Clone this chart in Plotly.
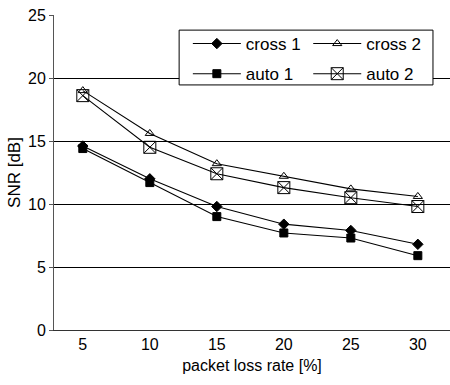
import plotly.graph_objects as go

loss_rate = [5, 10, 15, 20, 25, 30]
cross1 = [14.6, 12.0, 9.8, 8.4, 7.9, 6.8]
cross2 = [19.0, 15.6, 13.2, 12.2, 11.2, 10.6]
auto1 = [14.4, 11.7, 9.0, 7.7, 7.3, 5.9]
auto2 = [18.6, 14.5, 12.4, 11.3, 10.5, 9.8]

series = [
    ("cross 1", cross1, "diamond", 8, "legend"),
    ("cross 2", cross2, "triangle-up-open", 8, "legend2"),
    ("auto 1", auto1, "square", 8, "legend"),
    ("auto 2", auto2, "square-x-open", 12, "legend2"),
]

fig = go.Figure()
for name, vals, sym, size, leg in series:
    fig.add_trace(go.Scatter(
        x=loss_rate, y=vals, name=name, mode="lines+markers",
        line=dict(color="black", width=1.1),
        marker=dict(symbol=sym, size=size, color="black",
                    line=dict(color="black", width=1)),
        legend=leg, legendgroup=name,
    ))

leg_common = dict(
    orientation="v", yanchor="top", xanchor="left",
    bgcolor="rgba(0,0,0,0)", borderwidth=0,
    font=dict(size=17), itemwidth=48, tracegroupgap=5,
)

fig.update_layout(
    width=450, height=385,
    margin=dict(l=54, r=0, t=15, b=55, autoexpand=False),
    paper_bgcolor="white", plot_bgcolor="white",
    font=dict(family="Liberation Sans, Arial, sans-serif", color="black", size=16),
    showlegend=True,
    legend=dict(x=0.338, y=0.965, **leg_common),
    legend2=dict(x=0.642, y=0.965, **leg_common),
    shapes=[dict(type="rect", xref="paper", yref="paper",
                 x0=0.316, x1=0.957, y0=0.778, y1=0.952,
                 line=dict(color="black", width=1), fillcolor="white",
                 layer="above")],
    xaxis=dict(
        range=[2.85, 32.4], tickvals=loss_rate, showgrid=False,
        zeroline=False, showline=True, linecolor="#333", linewidth=1,
        ticks="", automargin=False,
        title=dict(text="packet loss rate [%]", font=dict(size=16), standoff=7),
        tickfont=dict(size=16),
    ),
    yaxis=dict(
        range=[0, 25], tickvals=[0, 5, 10, 15, 20, 25], showgrid=True,
        gridcolor="black", gridwidth=1, zeroline=False,
        showline=True, linecolor="#555", linewidth=1,
        ticks="outside", ticklen=4, tickcolor="#555",
        automargin=False,
        title=dict(text="SNR [dB]", font=dict(size=17), standoff=3),
        tickfont=dict(size=16),
    ),
)

fig.write_html("out.html", config={"displayModeBar": False},
               post_script="document.body.style.margin='0';")
